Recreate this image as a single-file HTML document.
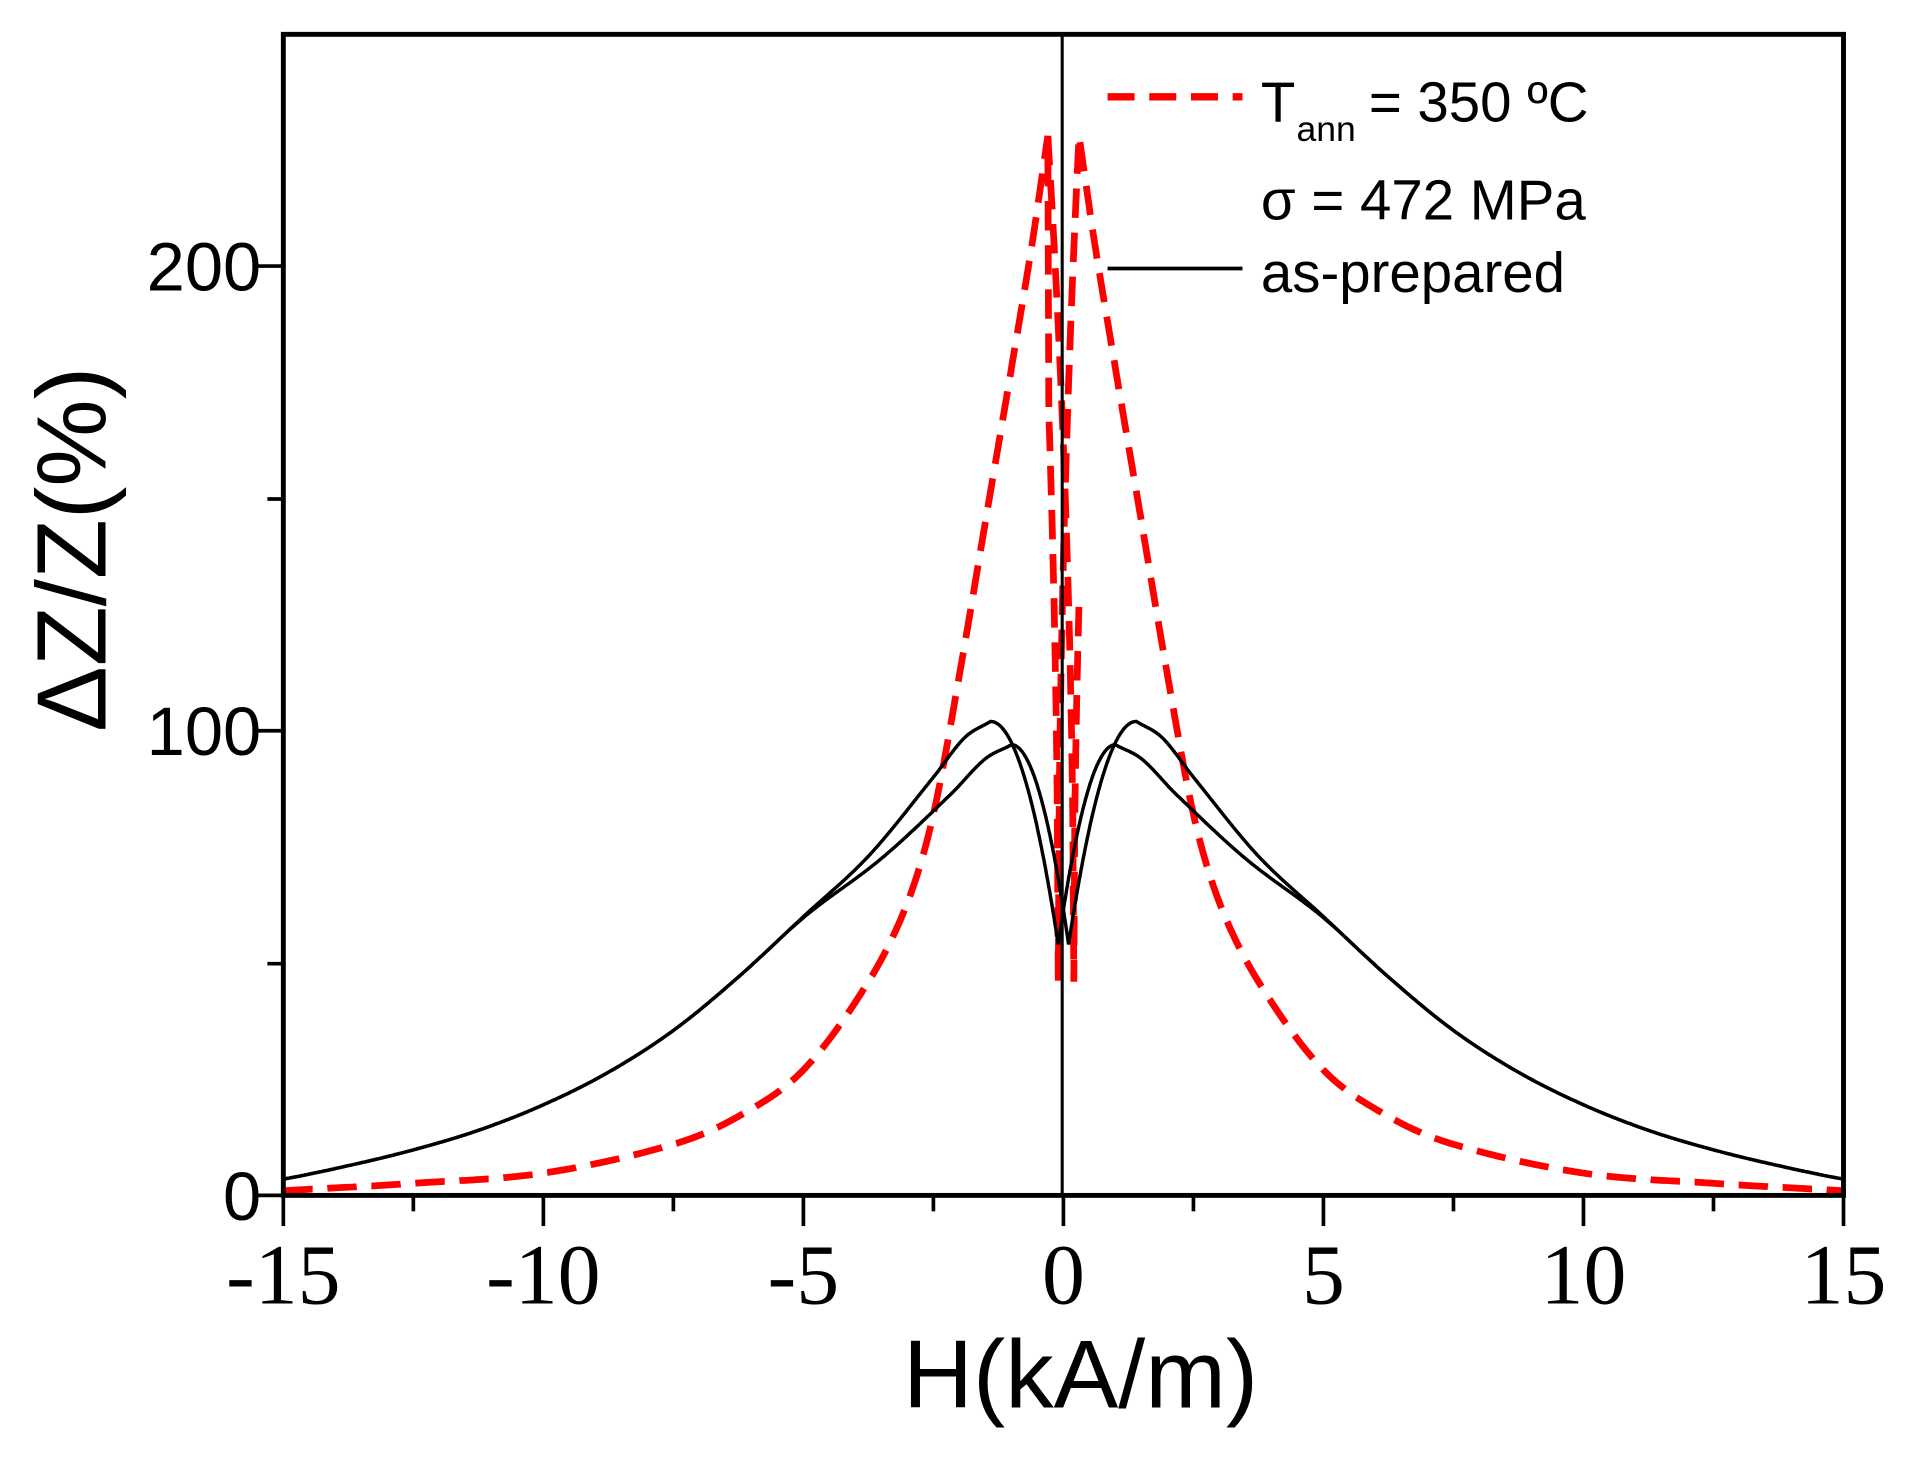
<!DOCTYPE html>
<html><head><meta charset="utf-8"><style>html,body{margin:0;padding:0;background:#fff}svg{display:block}</style></head>
<body>
<svg id="s" width="1922" height="1459" viewBox="0 0 1567 1190" preserveAspectRatio="none" xmlns="http://www.w3.org/2000/svg">
<g id="curves"></g>
<line x1="866" y1="28" x2="866" y2="975" stroke="#000" stroke-width="2.5"/>
<rect x="231" y="28" width="1272" height="947" fill="none" stroke="#000" stroke-width="4"/>
<g stroke="#000" stroke-width="3">
<line x1="231" y1="975" x2="231" y2="1000"/><line x1="337" y1="975" x2="337" y2="988"/>
<line x1="443" y1="975" x2="443" y2="1000"/><line x1="549" y1="975" x2="549" y2="988"/>
<line x1="655" y1="975" x2="655" y2="1000"/><line x1="761" y1="975" x2="761" y2="988"/>
<line x1="867" y1="975" x2="867" y2="1000"/><line x1="973" y1="975" x2="973" y2="988"/>
<line x1="1079" y1="975" x2="1079" y2="1000"/><line x1="1185" y1="975" x2="1185" y2="988"/>
<line x1="1291" y1="975" x2="1291" y2="1000"/><line x1="1397" y1="975" x2="1397" y2="988"/>
<line x1="1503" y1="975" x2="1503" y2="1000"/>
<line x1="210" y1="975" x2="231" y2="975"/><line x1="218" y1="786" x2="231" y2="786"/>
<line x1="210" y1="596" x2="231" y2="596"/><line x1="218" y1="407" x2="231" y2="407"/>
<line x1="210" y1="217" x2="231" y2="217"/>
</g>
<g font-family="Liberation Serif, serif" font-size="70" text-anchor="middle" fill="#000">
<text x="231" y="1063">-15</text><text x="443" y="1063">-10</text><text x="655" y="1063">-5</text>
<text x="867" y="1063">0</text><text x="1079" y="1063">5</text><text x="1291" y="1063">10</text><text x="1503" y="1063">15</text>
</g>
<g font-family="Liberation Sans, sans-serif" font-size="56" text-anchor="end" fill="#000">
<text x="213" y="995">0</text><text x="213" y="616">100</text><text x="213" y="237">200</text>
</g>
<text x="881" y="1148" font-family="Liberation Sans, sans-serif" font-size="79" text-anchor="middle">H(kA/m)</text>
<text transform="translate(86,448) rotate(-90)" font-family="Liberation Sans, sans-serif" font-size="80" text-anchor="middle">ΔZ/Z(%)</text>
<line x1="903" y1="79" x2="1013" y2="79" stroke="#f00" stroke-width="6" stroke-dasharray="22,12"/>
<line x1="903" y1="219" x2="1013" y2="219" stroke="#000" stroke-width="3"/>
<g font-family="Liberation Sans, sans-serif" font-size="46" fill="#000">
<text x="1028" y="99">T</text><text x="1057" y="115" font-size="29">ann</text><text x="1116" y="99">= 350 ºC</text>
<text x="1028" y="179">σ = 472 MPa</text>
<text x="1028" y="238">as-prepared</text>
</g>
</svg>
<script>
function X(h){return 867+h*42.4}
function Y(v){return 975-v*3.79}
function interp(TD,TV,d){
 if(d<=TD[0])return TV[0];
 for(var i=0;i<TD.length-1;i++){if(d<=TD[i+1]){
  var h=TD[i+1]-TD[i],t=(d-TD[i])/h;
  var m1=i>0?(TV[i+1]-TV[i-1])/(TD[i+1]-TD[i-1]):(TV[i+1]-TV[i])/h;
  var m2=i<TD.length-2?(TV[i+2]-TV[i])/(TD[i+2]-TD[i]):(TV[i+1]-TV[i])/h;
  var t2=t*t,t3=t2*t;
  return (2*t3-3*t2+1)*TV[i]+(t3-2*t2+t)*h*m1+(-2*t3+3*t2)*TV[i+1]+(t3-t2)*h*m2;}}
 return TV[TV.length-1];
}
var BD=[0,0.5,1.1,2.35,3.6,4.85,6.1,7.35,8.6,9.85,11.1,12.35,13.6,15];
var BV=[102,98.5,90,73,60,47,35.5,26.5,19.5,14,9.8,6.4,3.5,1];
var RD=[0.3,0.6,1,1.5,2,2.5,3,3.75,5,6.25,7.5,10,12.5,15];
var RV=[228,205,178,145,112,82,63,46,27,17,11,4.8,2.6,1];
function T(d){return interp(BD,BV,d)}
function outer(a){return T(a-1.4)}
function sm(x){x=Math.max(0,Math.min(1,x));return 3*x*x-2*x*x*x}
function inner(a){var d=a-1.0;var s=sm(d/4.5);return T(d-0.4*s)*(0.951+0.049*s)}
function black(h,m,fl,hl,fr,hr){
 var v;
 if(h<=-hl){v=fl(-h)}
 else if(h>=hr){v=fr(h)}
 else if(h<m){var pl=fl(hl);var t=(h+hl)/(m+hl);v=pl-(pl-54)*t*t}
 else {var pr=fr(hr);var t=(hr-h)/(hr-m);v=pr-(pr-54)*t*t}
 return v;
}
function red(h,m){
 var a=Math.abs(h), v;
 if(h<-0.3||h>0.3){v=interp(RD,RV,a)}
 else {var t=Math.abs(h-m)/(0.3+Math.abs(m)); v=46+182*Math.sqrt(Math.min(1,t))}
 return Math.max(v,0.3);
}
function path(f,a,b){var d="";for(var h=a;h<=b+0.0001;h+=0.02){d+=(d?"L":"M")+X(h).toFixed(1)+","+Y(f(h)).toFixed(1)}return d}
var g=document.getElementById("curves"),ns="http://www.w3.org/2000/svg";
function add(d,st,w,da){var p=document.createElementNS(ns,"path");p.setAttribute("d",d);p.setAttribute("fill","none");p.setAttribute("stroke",st);p.setAttribute("stroke-width",w);if(da)p.setAttribute("stroke-dasharray",da);g.appendChild(p)}
add(path(function(h){return red(h,-0.1)},-15,15),"#f00",5.5,"24,12");
add(path(function(h){return red(h,0.2)},-0.3,0.3),"#f00",5.5,"24,12");
add(path(function(h){return black(h,-0.1,outer,1.4,inner,1.0)},-15,15),"#000",2.8);
add(path(function(h){return black(h,0.1,inner,1.0,outer,1.4)},-15,15),"#000",2.8);
</script>
</body></html>
